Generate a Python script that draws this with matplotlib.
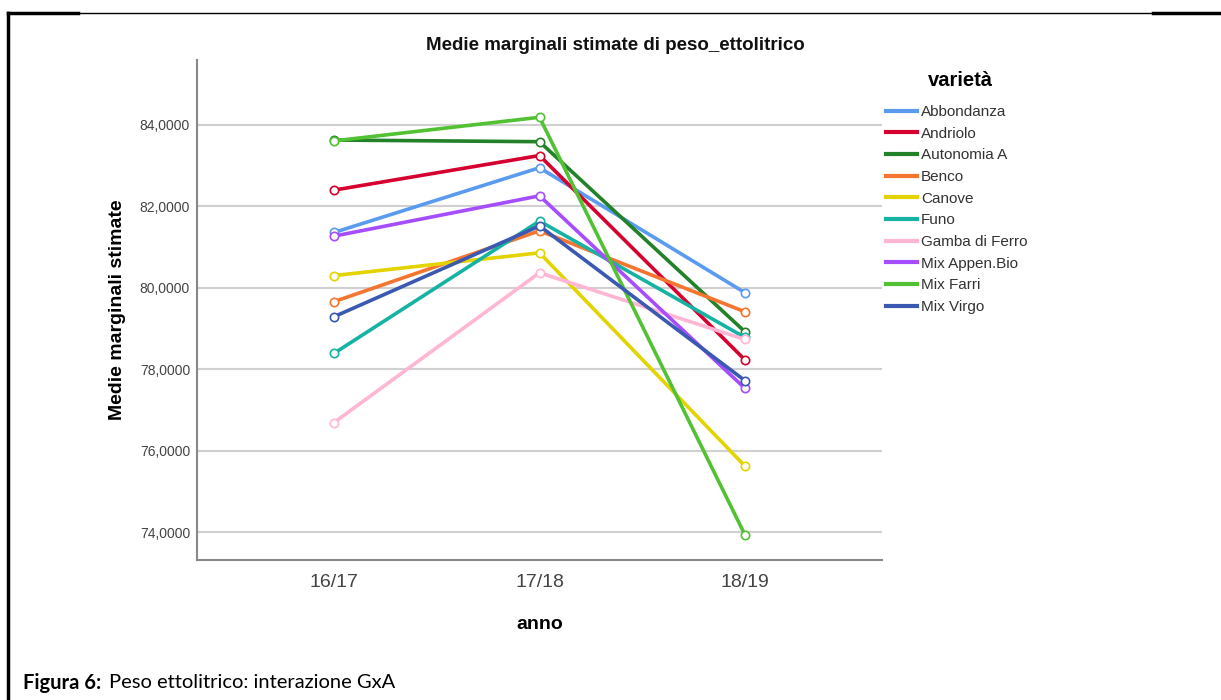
import numpy as np
import matplotlib.pyplot as plt
from matplotlib.lines import Line2D

# Data
anni = ["16/17", "17/18", "18/19"]
varieta = ["Abbondanza", "Andriolo", "Autonomia A", "Benco", "Canove",
           "Funo", "Gamba di Ferro", "Mix Appen.Bio", "Mix Farri", "Mix Virgo"]
abbondanza = [81.36, 82.95, 79.88]
andriolo = [82.40, 83.25, 78.23]
autonomia = [83.63, 83.59, 78.92]
benco = [79.66, 81.40, 79.41]
canove = [80.30, 80.86, 75.62]
funo = [78.39, 81.64, 78.78]
gamba = [76.69, 80.37, 78.73]
mix_appen = [81.27, 82.26, 77.53]
mix_farri = [83.61, 84.19, 73.93]
mix_virgo = [79.29, 81.52, 77.72]
serie = [abbondanza, andriolo, autonomia, benco, canove,
         funo, gamba, mix_appen, mix_farri, mix_virgo]
colori = ["#5b9bef", "#d6002f", "#23812a", "#f5742f", "#e3d300",
          "#16b3a2", "#ffb6d4", "#a64dff", "#52c234", "#3b59b0"]
y_ticks = [74, 76, 78, 80, 82, 84]

W, H = 1221, 700
fig = plt.figure(figsize=(W / 100, H / 100), dpi=100)
plt.rcParams['font.family'] = ['Liberation Sans', 'DejaVu Sans']

# page frame lines
top = 1 - 12.5 / H
fig.add_artist(Line2D([8 / W, 8 / W], [0, top], transform=fig.transFigure, color='black', lw=2.5))
fig.add_artist(Line2D([8 / W, 78 / W], [top, top], transform=fig.transFigure, color='black', lw=2.5))
fig.add_artist(Line2D([78 / W, 1153 / W], [top, top], transform=fig.transFigure, color='black', lw=1))
fig.add_artist(Line2D([1153 / W, 1], [top, top], transform=fig.transFigure, color='black', lw=2.5))

ax = fig.add_axes([197 / W, (H - 560) / H, (882 - 197) / W, 500 / H])
x = np.arange(len(anni))
for nome, vals, c in zip(varieta, serie, colori):
    ax.plot(x, vals, color=c, lw=2.6, marker='o', ms=6, mfc='white',
            mec=c, mew=1.2, label=nome, zorder=3)

ax.set_xlim(-0.667, 2.667)
ax.set_ylim(84 - 435 / 40.7, 84 + 65 / 40.7)
ax.set_xticks(x)
ax.set_xticklabels(anni, fontsize=14, color='#444444')
ax.set_yticks(y_ticks)
ax.set_yticklabels([f"{v},0000" for v in y_ticks], fontsize=10, color='#444444')
ax.yaxis.grid(True, color='#d0d0d0', lw=1.5, zorder=0)
ax.tick_params(axis='both', length=0, pad=5)
ax.tick_params(axis='x', pad=10)
for s in ['top', 'right']:
    ax.spines[s].set_visible(False)
for s in ['left', 'bottom']:
    ax.spines[s].set_color('#888888')
    ax.spines[s].set_linewidth(1.5)

ax.set_ylabel("Medie marginali stimate", fontsize=14, fontweight='bold', labelpad=10)
ax.set_xlabel("anno", fontsize=14, fontweight='bold', labelpad=18)
fig.text(615 / W, 1 - 45 / H, "Medie marginali stimate di peso_ettolitrico",
         ha='center', va='center', fontsize=13.5, fontweight='bold', color='#111111')

# legend: lines only, title placed separately
handles = [Line2D([], [], color=c, lw=3) for c in colori]
fig.text(960 / W, 1 - 80 / H, "varietà", ha='center', va='center',
         fontsize=14.5, fontweight='bold')
leg = fig.legend(handles, varieta, loc='upper left', bbox_to_anchor=(880 / W, 1 - 99 / H),
                 frameon=False, fontsize=11, handlelength=2.0, handletextpad=0.3,
                 labelspacing=0.5, borderaxespad=0)
for t in leg.get_texts():
    t.set_color('#333333')

# caption
fig.text(23 / W, 1 - 683 / H, "Figura 6:", fontsize=14.5, fontweight='bold',
         family=['Lato', 'DejaVu Sans'], va='center', ha='left')
fig.text(109 / W, 1 - 683 / H, "Peso ettolitrico: interazione GxA", fontsize=14.5,
         family=['Lato', 'DejaVu Sans'], va='center', ha='left')

fig.savefig("out.png", dpi=100)
